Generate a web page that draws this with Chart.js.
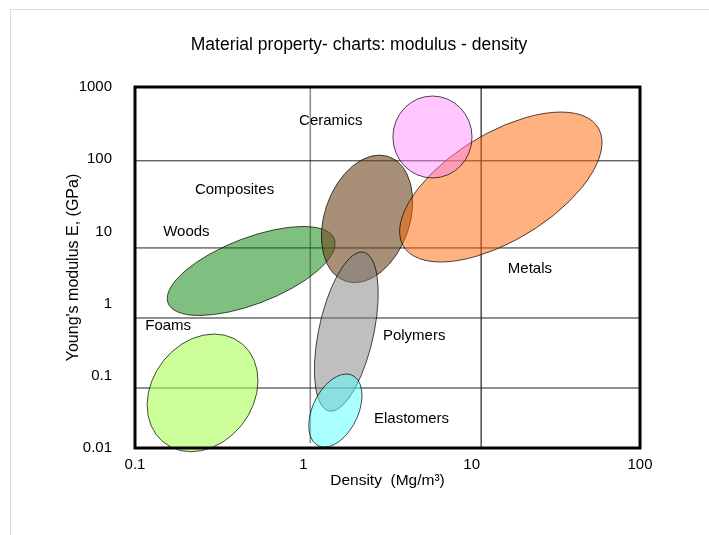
<!DOCTYPE html>
<html>
<head>
<meta charset="utf-8">
<script src="https://cdn.jsdelivr.net/npm/chart.js@4"></script>
<style>
  html, body { margin: 0; padding: 0; background: #fff; }
  #frame { position: absolute; left: 10px; top: 9px; width: 699px; height: 526px;
           border-left: 1px solid #dcdcdc; border-top: 1px solid #dcdcdc; }
  #wrap { position: absolute; left: 0; top: 0; width: 709px; height: 535px; }
</style>
</head>
<body>
<div id="frame"></div>
<div id="wrap"><canvas id="chart" width="709" height="535"></canvas></div>
<script>
// Axis ticks
const densityTicks = [0.1, 1, 10, 100];
const modulusTicks = [0.01, 0.1, 1, 10, 100, 1000];

// Material families (ellipse = centre, top point, right end of horizontal chord through centre)
const materials = ['Woods', 'Foams', 'Composites', 'Metals', 'Ceramics', 'Polymers', 'Elastomers'];
const centerDensity = [0.49, 0.252, 2.39, 14.9, 5.85, 1.80, 1.55];
const centerModulus = [2.83, 0.058, 14.9, 41.2, 203, 0.41, 0.033];
const topDensity = [0.995, 0.295, 2.83, 33.9, 5.85, 2.22, 1.80];
const topModulus = [11.7, 0.379, 114, 450, 750, 5.18, 0.106];
const chordDensity = [1.21, 0.529, 4.36, 45.4, 10.05, 2.64, 2.16];

// Where the family names sit
const labelDensity = [0.147, 0.115, 0.227, 16.4, 0.943, 2.97, 2.63];
const labelModulus = [9.8, 0.49, 37.4, 3.0, 338, 0.356, 0.0252];

// Background guide lines
const hLineModulus = [95, 5.9, 0.632, 0.0678];
const vLineDensity = [1.1, 11.4];
const vLineBottom = [0.0117, 0.01];

const chartTitle = 'Material property- charts: modulus - density';

const fills = [
  'rgba(0,128,0,0.5)',
  'rgba(170,255,85,0.6)',
  'rgba(110,70,30,0.6)',
  'rgba(255,102,0,0.5)',
  'rgba(255,128,255,0.45)',
  'rgba(128,128,128,0.5)',
  'rgba(85,255,255,0.5)'
];

const FONT = "'Liberation Sans', Arial, sans-serif";

const datasets = [];
hLineModulus.forEach(v => {
  datasets.push({
    data: [{x: 0.1, y: v}, {x: 100, y: v}],
    showLine: true, borderColor: '#222', borderWidth: 1, pointRadius: 0
  });
});
vLineDensity.forEach((v, i) => {
  datasets.push({
    data: [{x: v, y: 1000}, {x: v, y: vLineBottom[i]}],
    showLine: true, borderColor: i === 0 ? '#888' : '#555', borderWidth: i === 0 ? 1.5 : 1, pointRadius: 0
  });
});

const ellipsePlugin = {
  id: 'ellipses',
  afterDatasetsDraw(chart) {
    const {ctx, scales: {x, y}, chartArea} = chart;
    materials.forEach((name, i) => {
      const cx = x.getPixelForValue(centerDensity[i]);
      const cy = y.getPixelForValue(centerModulus[i]);
      const tx = x.getPixelForValue(topDensity[i]) - cx;
      const ty = y.getPixelForValue(topModulus[i]) - cy;
      const rx = x.getPixelForValue(chordDensity[i]) - cx;
      ctx.save();
      ctx.beginPath();
      ctx.transform(rx, 0, tx, ty, cx, cy);
      ctx.arc(0, 0, 1, 0, Math.PI * 2);
      ctx.restore();
      ctx.save();
      ctx.fillStyle = fills[i];
      ctx.fill();
      ctx.lineWidth = 1;
      ctx.strokeStyle = 'rgba(0,0,0,0.7)';
      ctx.stroke();
      ctx.restore();
    });

    // family names
    ctx.save();
    ctx.font = '15px ' + FONT;
    ctx.fillStyle = '#000';
    ctx.textAlign = 'left';
    ctx.textBaseline = 'middle';
    materials.forEach((name, i) => {
      ctx.fillText(name, x.getPixelForValue(labelDensity[i]), y.getPixelForValue(labelModulus[i]));
    });

    // chart title, a bit right of the plot centre like the original
    ctx.font = '17.5px ' + FONT;
    ctx.textAlign = 'center';
    ctx.fillText(chartTitle, 359, 45);
    ctx.restore();

    // plot frame
    ctx.save();
    ctx.lineWidth = 3;
    ctx.strokeStyle = '#000';
    ctx.strokeRect(chartArea.left, chartArea.top, chartArea.right - chartArea.left, chartArea.bottom - chartArea.top);
    ctx.restore();
  }
};

new Chart(document.getElementById('chart'), {
  type: 'scatter',
  data: { datasets: datasets },
  plugins: [ellipsePlugin],
  options: {
    responsive: false,
    animation: false,
    events: [],
    layout: { padding: { top: 87, right: 69, bottom: 0, left: 0 } },
    plugins: {
      legend: { display: false },
      tooltip: { enabled: false },
      title: { display: false }
    },
    scales: {
      x: {
        type: 'logarithmic',
        min: 0.1, max: 100,
        grid: { display: false, drawTicks: false },
        border: { display: false },
        afterBuildTicks: s => { s.ticks = densityTicks.map(v => ({ value: v })); },
        afterFit: s => { s.height = 87; },
        ticks: {
          color: '#000', padding: 8, maxRotation: 0,
          font: { family: FONT, size: 15 },
          callback: v => String(v)
        },
        title: {
          display: true, text: 'Density  (Mg/m³)', color: '#000',
          font: { family: FONT, size: 15.5 },
          padding: { top: 0, bottom: 45 }
        }
      },
      y: {
        type: 'logarithmic',
        min: 0.01, max: 1000,
        grid: { display: false, drawTicks: false },
        border: { display: false },
        afterBuildTicks: s => { s.ticks = modulusTicks.map(v => ({ value: v })); },
        afterFit: s => { s.width = 135; },
        ticks: {
          color: '#000', padding: 23,
          font: { family: FONT, size: 15 },
          callback: v => String(v)
        },
        title: {
          display: true, text: "Young's modulus E, (GPa)", color: '#000',
          font: { family: FONT, size: 16 },
          padding: { top: 64, bottom: 0 }
        }
      }
    }
  }
});
</script>
</body>
</html>
